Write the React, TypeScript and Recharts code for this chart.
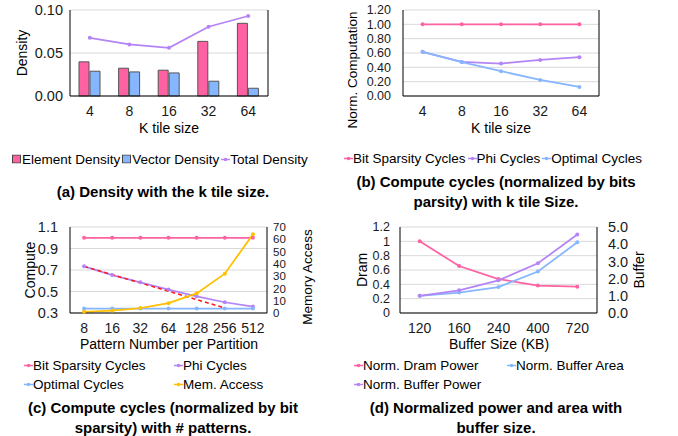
import React from 'react';
import {
  ComposedChart,
  Bar,
  Line,
  XAxis,
  YAxis,
  CartesianGrid,
} from 'recharts';

// (a) density vs k tile size
const kTiles = ['4', '8', '16', '32', '64'];
const elementDensity = [0.0397, 0.0323, 0.030, 0.0635, 0.0845];
const vectorDensity = [0.0288, 0.028, 0.0268, 0.0172, 0.009];
const totalDensity = [0.0677, 0.060, 0.056, 0.0805, 0.093];
const densityTicks = [0, 0.05, 0.1];

// (b) compute cycles vs k tile size
const bitSparsityK = [1, 1, 1, 1, 1];
const phiK = [0.616, 0.476, 0.453, 0.504, 0.542];
const optimalK = [0.616, 0.474, 0.346, 0.224, 0.126];
const computeTicksB = [0, 0.2, 0.4, 0.6, 0.8, 1.0, 1.2];

// (c) compute cycles vs pattern number
const patterns = ['8', '16', '32', '64', '128', '256', '512'];
const bitSparsityP = [1, 1, 1, 1, 1, 1, 1];
const phiP = [0.734, 0.653, 0.585, 0.518, 0.455, 0.40, 0.36];
const optimalP = [0.341, 0.341, 0.341, 0.341, 0.341, 0.341, 0.341];
const trendP = [0.734, 0.656, 0.58, 0.503, 0.425, 0.347, null];
const memAccess = [1, 2, 4, 8, 16, 32, 64];
const computeTicksC = [0.3, 0.5, 0.7, 0.9, 1.1];
const memTicks = [0, 10, 20, 30, 40, 50, 60, 70];

// (d) power / area vs buffer size
const bufferSizes = ['120', '160', '240', '400', '720'];
const dramPower = [1.0, 0.656, 0.474, 0.382, 0.368];
const bufferArea = [1.0, 1.19, 1.51, 2.41, 4.11];
const bufferPower = [1.0, 1.32, 1.9, 2.89, 4.56];
const dramTicks = [0, 0.2, 0.4, 0.6, 0.8, 1, 1.2];
const bufferTicks = [0, 1, 2, 3, 4, 5];

const FONT = '"Liberation Sans", Arial, sans-serif';
const PINK = '#ff62a3';
const BLUE = '#86b6ff';
const PURPLE = '#b484f7';
const ORANGE = '#ffc000';
const GRID = '#d9d9d9';

const tickX = { fontSize: 14, fill: '#1a1a1a', fontFamily: FONT };
const tickY = { fontSize: 14.5, fill: '#1a1a1a', fontFamily: FONT };
const tickDense = { fontSize: 12.5, fill: '#1a1a1a', fontFamily: FONT };
const tickTight = { fontSize: 11.5, fill: '#1a1a1a', fontFamily: FONT };

const dataA = kTiles.map((k, i) => ({
  k,
  element: elementDensity[i],
  vector: vectorDensity[i],
  total: totalDensity[i],
}));
const dataB = kTiles.map((k, i) => ({
  k,
  bit: bitSparsityK[i],
  phi: phiK[i],
  opt: optimalK[i],
}));
const dataC = patterns.map((p, i) => ({
  p,
  bit: bitSparsityP[i],
  phi: phiP[i],
  opt: optimalP[i],
  trend: trendP[i],
  mem: memAccess[i],
}));
const dataD = bufferSizes.map((b, i) => ({
  b,
  dram: dramPower[i],
  area: bufferArea[i],
  power: bufferPower[i],
}));

const dot = (c: string) => ({ r: 2, fill: c, stroke: c, strokeWidth: 0 });

const Text = ({ x, y, children, size = 14, bold = false, rotate = false }: any) => (
  <div
    style={{
      position: 'absolute',
      left: x,
      top: y,
      transform: `translate(-50%, -50%)${rotate ? ' rotate(-90deg)' : ''}`,
      whiteSpace: 'nowrap',
      fontSize: size,
      fontWeight: bold ? 'bold' : 'normal',
      textAlign: 'center',
      lineHeight: bold ? '19.5px' : '1',
    }}
  >
    {children}
  </div>
);

const LegendItem = ({ color, label, bar = false }: any) => (
  <span style={{ display: 'inline-flex', alignItems: 'center', marginRight: 2 }}>
    {bar ? (
      <svg width={9} height={9} style={{ marginRight: 1 }}>
        <rect x={0.5} y={0.5} width={8} height={8} fill={color} stroke="#444" />
      </svg>
    ) : (
      <svg width={9} height={8}>
        <line x1={0} x2={9} y1={4} y2={4} stroke={color} strokeWidth={1.5} />
        <circle cx={4.5} cy={4} r={1.8} fill={color} />
      </svg>
    )}
    {label}
  </span>
);

const LegendRow = ({ x, y, children }: any) => (
  <div
    style={{
      position: 'absolute',
      left: x,
      top: y,
      transform: 'translateY(-50%)',
      display: 'flex',
      whiteSpace: 'nowrap',
      fontSize: 13.5,
    }}
  >
    {children}
  </div>
);

const bottomX = (key: string, h: number) => (
  <XAxis dataKey={key} scale="band" interval={0} tickLine={false} tickSize={0} tickMargin={10} height={h} axisLine={{ stroke: '#000' }} tick={tickX} />
);
const frameX = (key: string) => (
  <XAxis xAxisId="top" orientation="top" dataKey={key} scale="band" height={0} tick={false} tickLine={false} axisLine={{ stroke: '#000' }} />
);

const ChartA = () => (
  <ComposedChart width={340} height={136} data={dataA} margin={{ top: 10, right: 0, bottom: 0, left: 0 }} barGap={1}>
    <CartesianGrid vertical={false} stroke={GRID} yAxisId="l" />
    {bottomX('k', 40)}
    {frameX('k')}
    <YAxis yAxisId="l" width={70} domain={[0, 0.1]} ticks={densityTicks} interval={0} tickFormatter={(v: number) => v.toFixed(2)} tickLine={false} tickSize={0} tickMargin={7} axisLine={{ stroke: '#000' }} tick={tickY} />
    <YAxis yAxisId="r" orientation="right" width={72} tick={false} tickLine={false} axisLine={{ stroke: '#000' }} />
    <Bar yAxisId="l" dataKey="element" fill={PINK} stroke="#555" strokeWidth={1} barSize={10} isAnimationActive={false} />
    <Bar yAxisId="l" dataKey="vector" fill={BLUE} stroke="#555" strokeWidth={1} barSize={10} isAnimationActive={false} />
    <Line yAxisId="l" dataKey="total" stroke={PURPLE} strokeWidth={1.75} dot={dot(PURPLE)} isAnimationActive={false} />
  </ComposedChart>
);

const ChartB = () => (
  <ComposedChart width={340} height={136} data={dataB} margin={{ top: 10, right: 0, bottom: 0, left: 0 }}>
    <CartesianGrid vertical={false} stroke={GRID} yAxisId="l" />
    {bottomX('k', 40)}
    {frameX('k')}
    <YAxis yAxisId="l" width={63} domain={[0, 1.2]} ticks={computeTicksB} interval={0} tickFormatter={(v: number) => v.toFixed(2)} tickLine={false} tickSize={0} tickMargin={12} axisLine={{ stroke: '#000' }} tick={tickDense} />
    <YAxis yAxisId="r" orientation="right" width={81} tick={false} tickLine={false} axisLine={{ stroke: '#000' }} />
    <Line yAxisId="l" dataKey="bit" stroke={PINK} strokeWidth={1.75} dot={dot(PINK)} isAnimationActive={false} />
    <Line yAxisId="l" dataKey="phi" stroke={PURPLE} strokeWidth={1.75} dot={dot(PURPLE)} isAnimationActive={false} />
    <Line yAxisId="l" dataKey="opt" stroke={BLUE} strokeWidth={1.75} dot={dot(BLUE)} isAnimationActive={false} />
  </ComposedChart>
);

const ChartC = () => (
  <ComposedChart width={340} height={150} data={dataC} margin={{ top: 27, right: 0, bottom: 0, left: 0 }}>
    <CartesianGrid vertical={false} stroke={GRID} yAxisId="l" />
    {bottomX('p', 37)}
    {frameX('p')}
    <YAxis yAxisId="l" width={70} domain={[0.3, 1.1]} ticks={computeTicksC} interval={0} tickFormatter={(v: number) => v.toFixed(1)} tickLine={false} tickSize={0} tickMargin={12} axisLine={{ stroke: '#000' }} tick={tickY} />
    <YAxis yAxisId="r" orientation="right" width={73} domain={[0, 70]} ticks={memTicks} interval={0} tickLine={false} tickSize={0} tickMargin={6} axisLine={{ stroke: '#000' }} tick={tickTight} />
    <Line yAxisId="l" dataKey="bit" stroke={PINK} strokeWidth={1.75} dot={dot(PINK)} isAnimationActive={false} />
    <Line yAxisId="l" dataKey="phi" stroke={PURPLE} strokeWidth={1.75} dot={dot(PURPLE)} isAnimationActive={false} />
    <Line yAxisId="l" dataKey="opt" stroke={BLUE} strokeWidth={1.75} dot={dot(BLUE)} isAnimationActive={false} />
    <Line yAxisId="l" dataKey="trend" stroke="#ff1a1a" strokeWidth={1.5} strokeDasharray="4 3" dot={false} connectNulls={false} isAnimationActive={false} />
    <Line yAxisId="r" dataKey="mem" stroke={ORANGE} strokeWidth={1.75} dot={dot(ORANGE)} isAnimationActive={false} />
  </ComposedChart>
);

const ChartD = () => (
  <ComposedChart width={340} height={150} data={dataD} margin={{ top: 27, right: 0, bottom: 0, left: 0 }}>
    <CartesianGrid vertical={false} stroke={GRID} yAxisId="l" />
    {bottomX('b', 37)}
    {frameX('b')}
    <YAxis yAxisId="l" width={60} domain={[0, 1.2]} ticks={dramTicks} interval={0} tickLine={false} tickSize={0} tickMargin={10} axisLine={{ stroke: '#000' }} tick={tickDense} />
    <YAxis yAxisId="r" orientation="right" width={83} domain={[0, 5]} ticks={bufferTicks} interval={0} tickFormatter={(v: number) => v.toFixed(1)} tickLine={false} tickSize={0} tickMargin={11} axisLine={{ stroke: '#000' }} tick={tickY} />
    <Line yAxisId="l" dataKey="dram" stroke={PINK} strokeWidth={1.75} dot={dot(PINK)} isAnimationActive={false} />
    <Line yAxisId="r" dataKey="area" stroke={BLUE} strokeWidth={1.75} dot={dot(BLUE)} isAnimationActive={false} />
    <Line yAxisId="r" dataKey="power" stroke={PURPLE} strokeWidth={1.75} dot={dot(PURPLE)} isAnimationActive={false} />
  </ComposedChart>
);

export default function App() {
  return (
    <div
      style={{
        position: 'absolute',
        left: 0,
        top: 0,
        width: 678,
        height: 436,
        background: '#fff',
        fontFamily: FONT,
        color: '#000',
        overflow: 'hidden',
      }}
    >
      <div style={{ position: 'absolute', left: 0, top: 0 }}><ChartA /></div>
      <div style={{ position: 'absolute', left: 340, top: 0 }}><ChartB /></div>
      <div style={{ position: 'absolute', left: 0, top: 200 }}><ChartC /></div>
      <div style={{ position: 'absolute', left: 340, top: 200 }}><ChartD /></div>

      {/* axis titles */}
      <Text x={22} y={53} rotate>Density</Text>
      <Text x={169} y={128}>K tile size</Text>
      <Text x={353} y={70} size={13.5} rotate>Norm. Computation</Text>
      <Text x={501} y={128}>K tile size</Text>
      <Text x={30} y={270} rotate>Compute</Text>
      <Text x={308} y={277} size={13.5} rotate>Memory Access</Text>
      <Text x={169} y={344}>Pattern Number per Partition</Text>
      <Text x={362} y={270} rotate>Dram</Text>
      <Text x={639} y={270} rotate>Buffer</Text>
      <Text x={499} y={344}>Buffer Size (KB)</Text>

      {/* legends */}
      <LegendRow x={12} y={159}>
        <LegendItem bar color={PINK} label="Element Density" />
        <LegendItem bar color={BLUE} label="Vector Density" />
        <LegendItem color={PURPLE} label="Total Density" />
      </LegendRow>
      <LegendRow x={344} y={158}>
        <LegendItem color={PINK} label="Bit Sparsity Cycles" />
        <LegendItem color={PURPLE} label="Phi Cycles" />
        <LegendItem color={BLUE} label="Optimal Cycles" />
      </LegendRow>
      <LegendRow x={24} y={365}><LegendItem color={PINK} label="Bit Sparsity Cycles" /></LegendRow>
      <LegendRow x={174} y={365}><LegendItem color={PURPLE} label="Phi Cycles" /></LegendRow>
      <LegendRow x={24} y={384}><LegendItem color={BLUE} label="Optimal Cycles" /></LegendRow>
      <LegendRow x={174} y={384}><LegendItem color={ORANGE} label="Mem. Access" /></LegendRow>
      <LegendRow x={354} y={365}><LegendItem color={PINK} label="Norm. Dram Power" /></LegendRow>
      <LegendRow x={507} y={365}><LegendItem color={BLUE} label="Norm. Buffer Area" /></LegendRow>
      <LegendRow x={354} y={384}><LegendItem color={PURPLE} label="Norm. Buffer Power" /></LegendRow>

      {/* captions */}
      <Text x={163} y={192} size={15} bold>(a) Density with the k tile size.</Text>
      <Text x={496} y={191} size={15} bold>
        (b) Compute cycles (normalized by bits
        <br />
        parsity) with k tile Size.
      </Text>
      <Text x={163} y={417} size={15} bold>
        (c) Compute cycles (normalized by bit
        <br />
        sparsity) with # patterns.
      </Text>
      <Text x={496} y={417} size={15} bold>
        (d) Normalized power and area with
        <br />
        buffer size.
      </Text>
    </div>
  );
}
